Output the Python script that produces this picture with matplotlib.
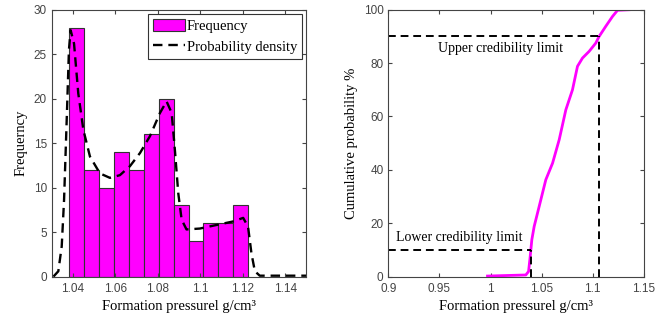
import numpy as np
import matplotlib
matplotlib.use('Agg')
import matplotlib.pyplot as plt

# histogram (12 bins between min and max pressure)
bin_start = 1.0383
bin_width = 0.00702
counts = [28, 12, 10, 14, 12, 16, 20, 8, 4, 6, 6, 8]

# scaled probability density
pdf_x = [1.0308, 1.0331, 1.0347, 1.0358, 1.0371, 1.0381, 1.0389, 1.0405, 1.0425,
         1.0449, 1.0480, 1.0527, 1.0574, 1.0621, 1.0668, 1.0716, 1.0763, 1.0810,
         1.0841, 1.0865, 1.0880, 1.0896, 1.0912, 1.0935, 1.0998, 1.1076, 1.1155,
         1.1202, 1.1225, 1.1241, 1.1257, 1.1280, 1.1350, 1.1420, 1.1500]
pdf_y = [0.0, 0.6, 3.4, 8.6, 18.0, 25.5, 27.7, 26.2, 20.6,
         16.5, 13.5, 11.6, 11.1, 11.4, 12.4, 13.9, 15.8, 18.4,
         19.7, 18.4, 14.3, 9.4, 6.4, 5.3, 5.4, 5.8, 6.2,
         6.6, 5.6, 2.6, 0.6, 0.1, 0.1, 0.1, 0.1]

# cumulative probability (%)
cdf_x = [0.997, 1.0345, 1.0372, 1.0388, 1.0404, 1.0427, 1.0476, 1.0541, 1.0607,
         1.0672, 1.0737, 1.0802, 1.0851, 1.0900, 1.0965, 1.1030, 1.1063, 1.1128,
         1.1194, 1.1243, 1.1356]
cdf_y = [0.2, 0.6, 1.9, 7.5, 13.8, 18.8, 26.3, 36.3, 42.5,
         51.3, 62.5, 70.0, 78.8, 81.9, 84.4, 87.5, 90.0, 93.8,
         97.5, 99.8, 100.0]

lower_x, lower_p = 1.040, 10
upper_x, upper_p = 1.106, 90

serif = ['Liberation Serif', 'DejaVu Serif']
sans = ['Liberation Sans', 'DejaVu Sans']
magenta = '#FF00FF'

fig = plt.figure(figsize=(6.72, 3.25), dpi=100)
ax1 = fig.add_axes([0.077, 0.149, 0.379, 0.821])
ax2 = fig.add_axes([0.578, 0.149, 0.380, 0.821])

# left: histogram + density
edges = bin_start + bin_width * np.arange(len(counts) + 1)
bars = ax1.bar(edges[:-1], counts, width=bin_width, align='edge', color=magenta,
               edgecolor='#333333', linewidth=0.8, label='Frequency')
line, = ax1.plot(pdf_x, pdf_y, color='black', linestyle=(0, (4, 2.5)), linewidth=1.7,
                 label='Probability density')
ax1.set_xlim(1.03, 1.15)
ax1.set_ylim(0, 30)
ax1.set_xticks([1.04, 1.06, 1.08, 1.1, 1.12, 1.14])
ax1.set_xticklabels(['1.04', '1.06', '1.08', '1.1', '1.12', '1.14'])
ax1.set_yticks(range(0, 31, 5))
ax1.set_xlabel('Formation pressurel g/cm³', family=serif, fontsize=10.5)
ax1.set_ylabel('Frequerncy', family=serif, fontsize=10.5)
leg = ax1.legend([bars, line], ['Frequency', 'Probability density'],
                 loc='upper right', prop={'family': serif, 'size': 10.5},
                 fancybox=False, edgecolor='#333333', framealpha=1,
                 borderpad=0.35, labelspacing=0.45, handlelength=2.2,
                 handleheight=0.9, handletextpad=0.1, borderaxespad=0.3)
leg.get_frame().set_linewidth(0.8)

# right: cumulative curve + credibility limits
ax2.plot(cdf_x, cdf_y, color=magenta, linewidth=2)
dash = dict(color='black', linestyle=(0, (4, 2.5)), linewidth=1.4)
ax2.plot([0.9, lower_x], [lower_p, lower_p], **dash)
ax2.plot([lower_x, lower_x], [0, lower_p], **dash)
ax2.plot([0.9, upper_x], [upper_p, upper_p], **dash)
ax2.plot([upper_x, upper_x], [0, upper_p], **dash)
ax2.text(1.010, 85.3, 'Upper credibility limit', family=serif, fontsize=10,
         ha='center', va='center')
ax2.text(0.969, 14.8, 'Lower credibility limit', family=serif, fontsize=10,
         ha='center', va='center')
ax2.set_xlim(0.9, 1.15)
ax2.set_ylim(0, 100)
ax2.set_xticks([0.9, 0.95, 1.0, 1.05, 1.1, 1.15])
ax2.set_xticklabels(['0.9', '0.95', '1', '1.05', '1.1', '1.15'])
ax2.set_yticks(range(0, 101, 20))
ax2.set_xlabel('Formation pressurel g/cm³', family=serif, fontsize=10.5)
ax2.set_ylabel('Cumulative probability %', family=serif, fontsize=10.5)

for ax in (ax1, ax2):
    ax.tick_params(direction='in', top=True, right=True, length=3,
                   width=0.8, colors='#444444', labelsize=8.5)
    ax.tick_params(axis='x', pad=4.5)
    for lab in ax.get_xticklabels() + ax.get_yticklabels():
        lab.set_family(sans)
    for sp in ax.spines.values():
        sp.set_color('#444444')
        sp.set_linewidth(0.8)

fig.savefig('out.png', dpi=100)
